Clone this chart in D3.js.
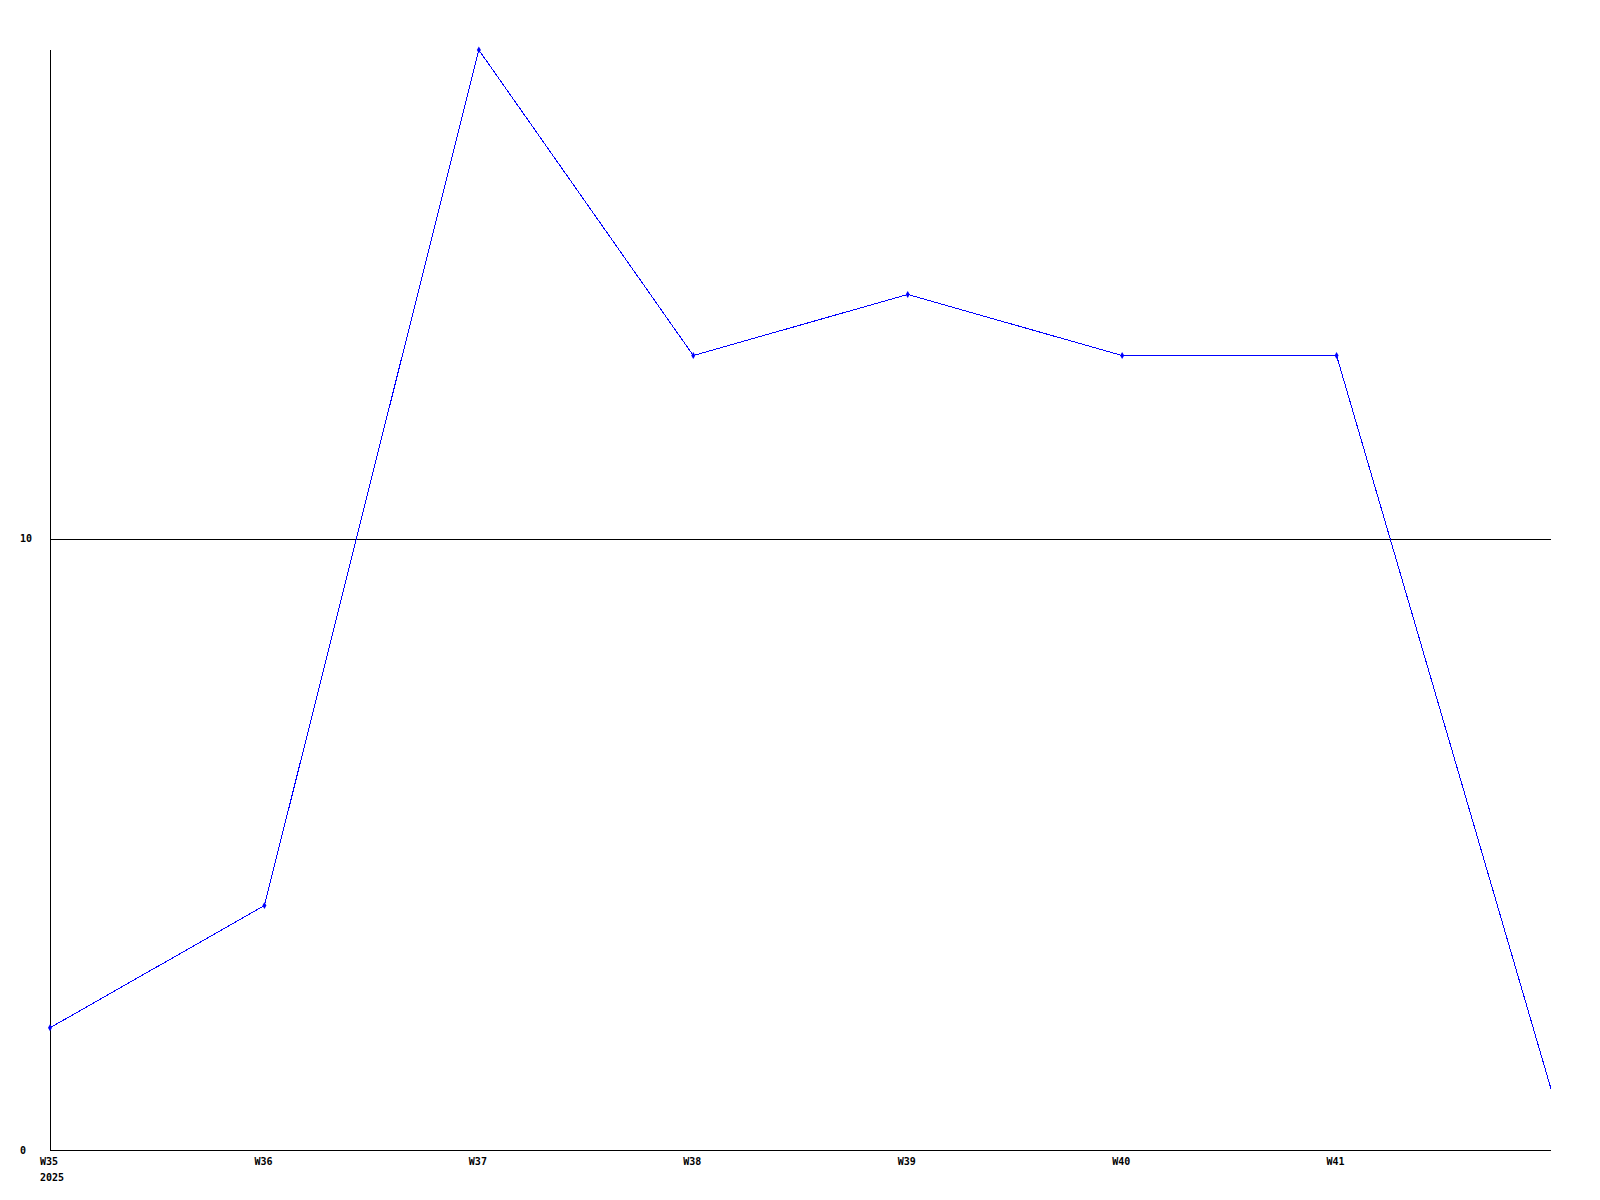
<!DOCTYPE html>
<html>
<head>
<meta charset="utf-8">
<script src="https://cdn.jsdelivr.net/npm/d3@7"></script>
<style>
  html, body { margin: 0; padding: 0; background: #fff; }
  svg text { font-family: "DejaVu Sans Mono", monospace; font-weight: bold; font-size: 10px; fill: #000; }
</style>
</head>
<body>
<div id="chart"></div>
<script>
// --- data ---
const weeks = ['W35', 'W36', 'W37', 'W38', 'W39', 'W40', 'W41', 'W42'];
const counts = [2, 4, 18, 13, 14, 13, 13, 1];
const yTicks = [0, 10];
const yearLabel = '2025';

const width = 1600, height = 1200;
const plotLeft = 50, plotRight = 1551, plotTop = 50, plotBottom = 1150;

const svg = d3.select('#chart').append('svg')
    .attr('width', width)
    .attr('height', height);

const x = d3.scalePoint().domain(weeks).range([plotLeft, plotRight]);
const y = d3.scaleLinear().domain([0, 18]).range([plotBottom, plotTop]);

// gridlines (only non-zero ticks)
svg.append('g').selectAll('line')
    .data(yTicks.filter(d => d !== 0))
    .join('line')
    .attr('x1', plotLeft).attr('x2', plotRight)
    .attr('y1', d => Math.round(y(d)) + 0.5).attr('y2', d => Math.round(y(d)) + 0.5)
    .attr('stroke', '#000')
    .attr('shape-rendering', 'crispEdges');

// axes lines
svg.append('line')
    .attr('x1', plotLeft + 0.5).attr('x2', plotLeft + 0.5)
    .attr('y1', plotTop).attr('y2', plotBottom)
    .attr('stroke', '#000').attr('shape-rendering', 'crispEdges');
svg.append('line')
    .attr('x1', plotLeft).attr('x2', plotRight)
    .attr('y1', plotBottom + 0.5).attr('y2', plotBottom + 0.5)
    .attr('stroke', '#000').attr('shape-rendering', 'crispEdges');

// y labels
svg.append('g').selectAll('text')
    .data(yTicks)
    .join('text')
    .attr('x', 20)
    .attr('y', d => y(d))
    .attr('dy', '0.35em')
    .text(d => d);

// x labels (last week has no label)
svg.append('g').selectAll('text')
    .data(weeks.slice(0, -1))
    .join('text')
    .attr('x', d => x(d) - 10)
    .attr('y', plotBottom + 15)
    .text(d => d);

svg.append('text')
    .attr('x', x(weeks[0]) - 10)
    .attr('y', plotBottom + 31)
    .text(yearLabel);

// line
const line = d3.line()
    .x((d, i) => x(weeks[i]))
    .y(d => y(d));

svg.append('path')
    .datum(counts)
    .attr('d', line)
    .attr('fill', 'none')
    .attr('stroke', '#0000ff')
    .attr('stroke-width', 1)
    .attr('shape-rendering', 'crispEdges');

// markers (no marker on the last, partial week)
svg.append('g').selectAll('path')
    .data(counts.slice(0, -1))
    .join('path')
    .attr('d', d3.symbol(d3.symbolDiamond, 14))
    .attr('transform', (d, i) => `translate(${x(weeks[i])},${y(d)})`)
    .attr('fill', '#0000ff');
</script>
</body>
</html>
